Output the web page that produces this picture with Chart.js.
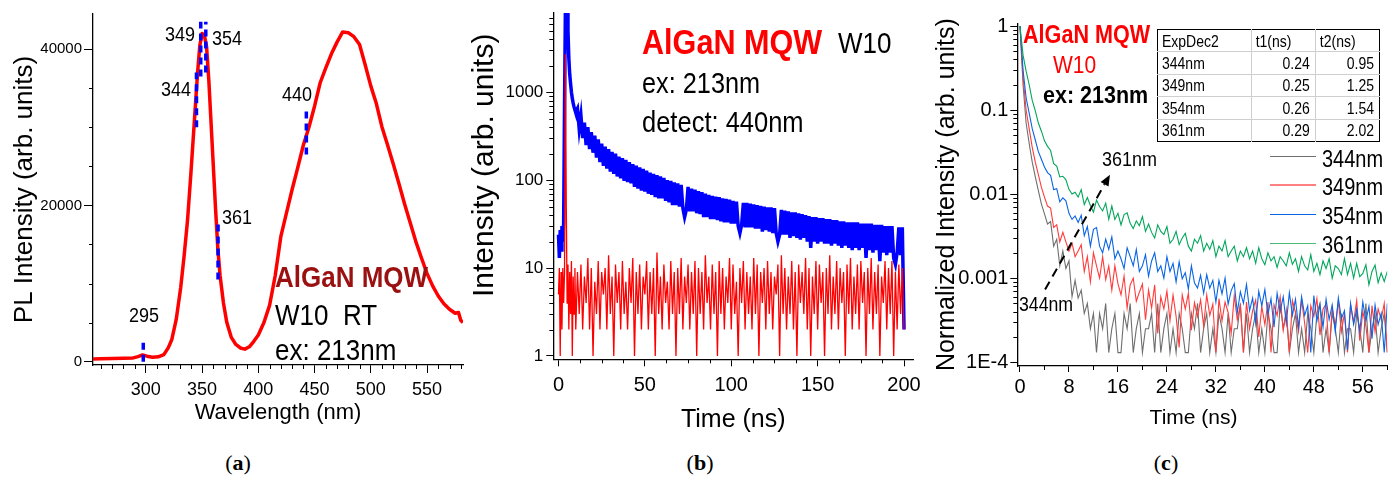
<!DOCTYPE html>
<html lang="en">
<head>
<meta charset="UTF-8">
<title>AlGaN MQW W10 - PL and time-resolved PL</title>
<script src="https://cdn.jsdelivr.net/npm/chart.js@4"></script>
<style>
  * { margin: 0; padding: 0; box-sizing: border-box; }
  body { width: 1397px; height: 477px; overflow: hidden; position: relative; background: #fff; font-family: 'Liberation Sans', Arial, sans-serif; color: #000; }
  .panel { position: absolute; top: 0; height: 440px; }
  .panel canvas { display: block; }
  .t { position: absolute; white-space: pre; line-height: 1; transform: scaleY(1.15); transform-origin: 0 0; }
  .b { font-weight: bold; }
  .cap { position: absolute; top: 452px; width: 60px; margin-left: -30px; text-align: center; font-family: 'Liberation Serif', 'DejaVu Serif', serif; font-size: 22px; line-height: 1; }
  .cap b { font-weight: bold; }
  .leg { position: absolute; left: 1270px; width: 46px; height: 1.6px; }
  #fitTable { position: absolute; left: 1157px; top: 29px; width: 223px; border-collapse: collapse; border: 1.5px solid #000; font-size: 14px; }
  #fitTable td { height: 22.4px; border: 1.5px solid #cfcfcf; padding: 0 5px 0 4px; text-align: right; vertical-align: middle; white-space: nowrap; }
  #fitTable td:first-child, #fitTable tr:first-child td { text-align: left; }
  #fitTable tr:first-child td { border-top: none; }
  #fitTable td:first-child { border-left: none; }
  #fitTable td:last-child { border-right: none; }
  #fitTable tr:last-child td { border-bottom: none; }
  #fitTable span { display: inline-block; transform: scaleY(1.15); }
</style>
</head>
<body>
<div class="panel" style="left:0;width:470px"><canvas id="chartA" width="470" height="440"></canvas></div>
<div class="panel" style="left:470px;width:460px"><canvas id="chartB" width="460" height="440"></canvas></div>
<div class="panel" style="left:930px;width:467px"><canvas id="chartC" width="467" height="440"></canvas></div>

<!-- (a) labels -->
<div class="t" style="left:165px;top:24px;font-size:18px">349</div>
<div class="t" style="left:212px;top:27.5px;font-size:18px">354</div>
<div class="t" style="left:161px;top:79px;font-size:18px">344</div>
<div class="t" style="left:282px;top:83.5px;font-size:18px">440</div>
<div class="t" style="left:222px;top:207px;font-size:18px">361</div>
<div class="t" style="left:129px;top:305px;font-size:18px">295</div>
<div class="t b" style="left:275px;top:261.7px;font-size:26px;color:#9b1111">AlGaN MQW</div>
<div class="t" style="left:275px;top:299.7px;font-size:26px">W10  RT</div>
<div class="t" style="left:275px;top:335.4px;font-size:26px">ex: 213nm</div>

<!-- (b) labels -->
<div class="t b" style="left:642px;top:23.5px;font-size:30.6px;color:#ff0000">AlGaN MQW</div>
<div class="t" style="left:838px;top:28px;font-size:26px">W10</div>
<div class="t" style="left:642px;top:68.7px;font-size:25.3px">ex: 213nm</div>
<div class="t" style="left:642px;top:107.7px;font-size:25.5px">detect: 440nm</div>

<!-- (c) labels -->
<div class="t b" style="left:1023px;top:21.7px;font-size:21.6px;color:#ff0000">AlGaN MQW</div>
<div class="t" style="left:1053px;top:52.3px;font-size:21px;color:#ff0000">W10</div>
<div class="t b" style="left:1043px;top:83px;font-size:21.5px">ex: 213nm</div>
<div class="t" style="left:1102px;top:148.5px;font-size:18px">361nm</div>
<div class="t" style="left:1019px;top:295.2px;font-size:17.7px">344nm</div>
<table id="fitTable"></table>
<div id="legendC"></div>

<div class="cap" style="left:238px">(<b>a</b>)</div>
<div class="cap" style="left:700px">(<b>b</b>)</div>
<div class="cap" style="left:1166px">(<b>c</b>)</div>

<script>
// ---------- (a) PL spectrum ----------
const aWavelength = [253,260,270,280,288,293,297,301,306,311,316,320,323,327,331,334,337,340,343,346,348,350,352,354,356,358,360,362,364,366,369,372,376,380,384,388,392,396,400,405,410,415,420,425,430,435,440,445,450,455,460,465,470,475,480,485,490,495,500,505,510,515,520,525,530,535,540,545,550,555,560,565,570,575,578,580,582]
const aIntensity = [350,380,400,420,450,650,850,700,560,620,900,1800,2800,5400,9500,13500,18000,24000,30500,37000,40500,42000,41800,40300,36000,30500,25000,19500,14500,11000,7500,5000,3100,2200,1750,1600,1900,2600,3400,5000,7200,11000,16000,19000,22000,24800,27700,30000,32700,35700,37600,39400,40900,42200,42100,41600,40600,38000,35300,33000,30000,27700,25300,22800,20200,17800,15400,13300,11300,9700,8400,7400,6700,6200,6300,5300,5000]
// detection wavelengths marked on the spectrum
const aMarkNm = [297.7, 345, 348.8, 353.3, 364.2, 442.7]
const aMarkLo = [0, 30000, 36500, 37000, 10500, 26500]
const aMarkHi = [3000, 37000, 43500, 43500, 18000, 32500]
const aXTicks = [300, 350, 400, 450, 500, 550]
const aYTicks = [0, 20000, 40000]
const aMinorX = [260,270,280,290,310,320,330,340,360,370,380,390,410,420,430,440,460,470,480,490,510,520,530,540,560,570,580]
const aMinorY = [5000,10000,15000,25000,30000,35000]

// ---------- (b) decay at 440nm ----------
const bTime = [0,0.5,1,1.5,2,2.5,3,3.5,4,4.5,5,5.5,6,6.5,7,7.5,8,8.5,9,9.5,10,
  11,12,13,14,15,16,17,18,19,20, 21,22,23,24,25,26,27,28,29,30,
  31,32,33,34,35,36,37,38,39,40, 41,42,43,44,45,46,47,48,49,50,
  51,52,53,54,55,56,57,58,59,60, 61,62,63,64,65,66,67,68,69,70,
  71,72,73,74,75,76,77,78,79,80, 81,82,83,84,85,86,87,88,89,90,
  91,92,93,94,95,96,97,98,99,100, 101,102,103,104,105,106,107,108,109,110,
  111,112,113,114,115,116,117,118,119,120, 121,122,123,124,125,126,127,128,129,130,
  131,132,133,134,135,136,137,138,139,140, 141,142,143,144,145,146,147,148,149,150,
  151,152,153,154,155,156,157,158,159,160, 161,162,163,164,165,166,167,168,169,170,
  171,172,173,174,175,176,177,178,179,180, 181,182,183,184,185,186,187,188,189,190,
  191,192,193,194,195,196,197,198,199,200]
const bSignal = [24,13,27,16,30,20,33,700,9000,9000,8000,5000,2400,1600,1250,1000,850,750,680,630,590,
  650,380,540,300,450,250,400,225,350,205, 320,180,290,160,260,145,240,135,225,125,
  210,118,200,110,185,105,178,98,170,95, 160,92,152,84,146,80,140,76,134,74,
  128,70,122,68,118,64,114,62,110,62, 106,58,100,56,98,52,94,52,92,50,
  88,48,38,46,84,44,80,44,78,42, 75,41,73,38,70,38,68,36,66,36,
  65,35,64,34,62,33,61,33,60,32, 58,32,57,30,25,31,55,29,55,29,
  54,29,53,28,52,28,51,26,50,27, 49,26,49,25,48,25,20,24,46,24,
  45,24,44,22,43,23,43,22,42,21, 41,22,40,20,39,17,38,20,38,19,
  37,20,37,19,36,19,36,18,35,19, 35,18,34,17,34,18,33,17,33,16,
  33,17,33,16,32,17,32,13,32,16, 32,15,31,16,31,12,31,15,30,14,
  30,15,30,13,11,15,29,14,29,2]
const bBackground = [5,10,1,9,2,10,4,9,2700,55,4,11,2,9,3,12,1,8,3,10,2,
  9,3,11,2,8,4,13,2,10,1, 7,3,12,2,9,5,10,2,14,3,
  8,1,11,4,9,2,12,3,7,2, 10,4,13,1,9,3,11,2,8,5,
  12,2,9,3,10,1,15,3,8,2, 11,4,7,2,12,3,9,1,10,3,
  13,2,8,4,11,2,9,3,12,1, 10,3,9,2,14,4,8,2,11,3,
  9,1,12,3,10,2,8,4,13,2, 11,3,7,1,10,4,12,2,9,3,
  8,2,13,3,11,1,9,4,10,2, 12,3,9,2,8,5,11,1,14,3,
  10,2,8,3,12,2,9,1,11,4, 9,3,13,2,10,1,8,3,12,2,
  11,4,9,1,10,3,14,2,8,3, 12,2,10,4,9,1,11,3,13,2,
  8,3,11,2,12,4,9,1,10,3, 13,2,9,3,11,1,8,4,12,2,
  10,3,12,1,9,2,11,3,10,2]
const bXTicks = [0, 50, 100, 150, 200]
const bYTicks = [1, 10, 100, 1000]
const bMinorX = [12.5,25,37.5,62.5,75,87.5,112.5,125,137.5,162.5,175,187.5]
const bMinorY = [2,3,4,5,6,7,8,9,20,30,40,50,60,70,80,90,200,300,400,500,600,700,800,900,2000,3000,4000,5000,6000,7000]

// ---------- (c) normalized decays ----------
const cTime = [0,0.5,1,1.5,2,2.5,3,3.5,4,4.5,
  5,5.5,6,6.5,7,7.5,8,8.5,9,9.5,
  10,10.5,11,11.5,12,12.5,13,13.5,14,14.5,
  15,15.5,16,16.5,17,17.5,18,18.5,19,19.5,
  20,20.5,21,21.5,22,22.5,23,23.5,24,24.5,
  25,25.5,26,26.5,27,27.5,28,28.5,29,29.5,
  30,30.5,31,31.5,32,32.5,33,33.5,34,34.5,
  35,35.5,36,36.5,37,37.5,38,38.5,39,39.5,
  40,40.5,41,41.5,42,42.5,43,43.5,44,44.5,
  45,45.5,46,46.5,47,47.5,48,48.5,49,49.5,
  50,50.5,51,51.5,52,52.5,53,53.5,54,54.5,
  55,55.5,56,56.5,57,57.5,58,58.5,59,59.5,60]
const c344 = [1,0.2,0.07,0.04,0.024,0.016,0.011,0.0076,0.0058,0.0044,
  0.0047,0.0024,0.0029,0.0014,0.0021,0.0013,0.0016,0.0006,0.00094,0.00058,
  0.00072,0.00038,0.0005,0.00025,0.00038,0.00013,0.00038,0.00025,0.0005,0.00013,
  0.00025,0.00038,0.00013,0.00013,0.00038,0.00025,0.0005,0.00013,0.00025,0.00038,
  0.00013,0.00025,0.00025,0.00038,0.00013,0.0005,0.00013,0.00025,0.00038,0.00013,
  0.00025,0.00013,0.00038,0.00025,0.00013,0.00013,0.00038,0.00025,0.0005,0.00013,
  0.00025,0.00038,0.00013,0.00025,0.00013,0.00038,0.00025,0.00013,0.00038,0.00013,
  0.00025,0.00025,0.0005,0.00013,0.00038,0.00013,0.00025,0.00038,0.00013,0.00025,
  0.00013,0.00038,0.00025,0.00013,0.00013,0.0005,0.00025,0.00038,0.00013,0.00025,
  0.00038,0.00013,0.00025,0.00013,0.00038,0.00025,0.00013,0.00038,0.0005,0.00013,
  0.00025,0.00013,0.00038,0.00025,0.00013,0.00038,0.00013,0.00025,0.00025,0.00013,
  0.00038,0.00025,0.00013,0.0005,0.00013,0.00025,0.00038,0.00013,0.00025,0.00038,0.00013]
const c349 = [1,0.25,0.1,0.06,0.036,0.024,0.017,0.012,0.0092,0.0072,
  0.0068,0.004,0.0043,0.0027,0.0035,0.0027,0.0021,0.0026,0.0018,0.0021,
  0.0025,0.0012,0.0018,0.0009,0.002,0.0014,0.001,0.0018,0.00096,0.0014,
  0.00072,0.0014,0.00086,0.00063,0.00106,0.00044,0.00083,0.001,0.00053,0.00068,
  0.00085,0.00032,0.00072,0.00044,0.00083,0.00022,0.0006,0.00043,0.0007,0.00031,
  0.00063,0.00035,0.00015,0.00063,0.00043,0.00066,0.00024,0.00051,0.00035,0.00055,
  0.00027,0.00063,0.00036,0.00049,0.00013,0.00057,0.00031,0.00052,0.00039,0.00022,
  0.00062,0.00032,0.00047,0.00013,0.00052,0.00025,0.00041,0.00055,0.0002,0.00046,
  0.00028,0.00052,0.00013,0.00048,0.00036,0.0006,0.00024,0.00042,0.00013,0.00054,
  0.00039,0.00023,0.00055,0.00029,0.00013,0.00047,0.00035,0.00057,0.00021,0.00043,
  0.00049,0.00013,0.00044,0.00027,0.00053,0.00023,0.00038,0.00013,0.00048,0.0003,
  0.00054,0.00018,0.0004,0.00027,0.00013,0.00047,0.00023,0.00043,0.00032,0.0005,0.00013]
const c354 = [1,0.3,0.14,0.092,0.06,0.044,0.032,0.026,0.021,0.018,
  0.0167,0.0113,0.0116,0.0081,0.009,0.0083,0.0059,0.005,0.0055,0.0046,
  0.0056,0.0032,0.0041,0.0024,0.0038,0.004,0.0024,0.002,0.0029,0.0022,
  0.0031,0.0017,0.0021,0.0017,0.0013,0.0023,0.0018,0.0014,0.0022,0.0012,
  0.0014,0.0019,0.00105,0.0016,0.002,0.0012,0.0014,0.001,0.0018,0.0012,
  0.0015,0.0009,0.00156,0.00098,0.00116,0.00074,0.0014,0.00088,0.00076,0.00108,
  0.00066,0.0011,0.00076,0.00094,0.00052,0.00094,0.00065,0.001,0.00049,0.00071,
  0.00086,0.00039,0.00069,0.0005,0.00084,0.00041,0.00058,0.00029,0.0007,0.00047,
  0.00073,0.00037,0.00057,0.00026,0.00066,0.0004,0.0006,0.00029,0.00067,0.00036,
  0.00056,0.00026,0.0006,0.00036,0.00047,0.00013,0.00062,0.00031,0.00048,0.00026,
  0.00056,0.00032,0.00048,0.00023,0.00058,0.00033,0.00041,0.00014,0.0005,0.00028,
  0.00043,0.00023,0.00052,0.00031,0.00046,0.00019,0.00048,0.00028,0.00038,0.00013,0.0005]
const c361 = [1,0.45,0.29,0.2,0.13,0.098,0.07,0.056,0.043,0.037,
  0.033,0.023,0.0215,0.016,0.0163,0.0148,0.0114,0.01,0.0105,0.0092,
  0.0113,0.0075,0.0091,0.0073,0.0061,0.0085,0.0071,0.0063,0.0078,0.005,
  0.0072,0.005,0.0059,0.0043,0.0057,0.006,0.0045,0.0039,0.0048,0.0042,
  0.0054,0.0036,0.0044,0.0035,0.003,0.0043,0.0036,0.0033,0.0041,0.0026,
  0.0029,0.0036,0.0025,0.003,0.0034,0.0024,0.0021,0.0029,0.0026,0.0032,
  0.0021,0.0026,0.0022,0.0028,0.0018,0.0024,0.0021,0.0028,0.0018,0.0021,
  0.0024,0.0016,0.0021,0.0018,0.0023,0.0017,0.0021,0.0015,0.0023,0.0017,
  0.00144,0.002,0.0016,0.0018,0.00134,0.0018,0.0016,0.0014,0.002,0.00146,
  0.0017,0.0012,0.0018,0.0014,0.00125,0.0019,0.0012,0.0015,0.0011,0.0016,
  0.0013,0.0017,0.001,0.0014,0.0013,0.0011,0.0017,0.0011,0.0015,0.001,
  0.0015,0.00104,0.00114,0.00144,0.00083,0.0012,0.00143,0.00088,0.00115,0.00091,0.0012]
const cLabels = ['344nm', '349nm', '354nm', '361nm']
const cColors = ['#6e6e6e', '#ff3b3b', '#0a64e6', '#00a65a']
const cLegendColors = ['#6e6e6e', '#ff8080', '#0a64e6', '#4cb87a']
const cXTicks = [0, 8, 16, 24, 32, 40, 48, 56]
const cYTicks = [0.0001, 0.001, 0.01, 0.1, 1]
const cYLabels = ['1E-4', '0.001', '0.01', '0.1', '1']
const cMinorX = [4, 12, 20, 28, 36, 44, 52, 60]
const cMinorY = [0.0002,0.0003,0.0004,0.0005,0.0006,0.0007,0.0008,0.0009,0.002,0.003,0.004,0.005,0.006,0.007,0.008,0.009,0.02,0.03,0.04,0.05,0.06,0.07,0.08,0.09,0.2,0.3,0.4,0.5,0.6,0.7,0.8,0.9]
const cArrowT = [4.1, 14.7]
const cArrowI = [0.00073, 0.017]

// ExpDec2 fit table
const fitRows = ['344nm', '349nm', '354nm', '361nm']
const fitT1 = [0.24, 0.25, 0.26, 0.29]
const fitT2 = [0.95, 1.25, 1.54, 2.02]

Chart.defaults.font.family = "'Liberation Sans', Arial, sans-serif"
Chart.defaults.color = '#000'
Chart.defaults.animation = false

const pts = (xs, ys) => ys.map((v, i) => ({ x: xs[i], y: v }))

const minorTicks = {
  id: 'minorTicks',
  afterDraw(chart, args, opts) {
    const { ctx, chartArea: a, scales } = chart
    ctx.save()
    ctx.strokeStyle = '#000'
    ctx.lineWidth = 1
    ctx.beginPath()
    for (const v of opts.x || []) {
      const p = Math.round(scales.x.getPixelForValue(v)) + 0.5
      ctx.moveTo(p, a.bottom)
      ctx.lineTo(p, a.bottom + opts.len)
    }
    for (const v of opts.y || []) {
      const p = Math.round(scales.y.getPixelForValue(v)) + 0.5
      ctx.moveTo(a.left, p)
      ctx.lineTo(a.left - opts.len, p)
    }
    ctx.stroke()
    ctx.restore()
  }
}

const arrow = {
  id: 'arrow',
  afterDatasetsDraw(chart, args, opts) {
    if (!opts.t) return
    const { ctx, scales: { x, y } } = chart
    const x0 = x.getPixelForValue(opts.t[0]), y0 = y.getPixelForValue(opts.v[0])
    const x1 = x.getPixelForValue(opts.t[1]), y1 = y.getPixelForValue(opts.v[1])
    const ang = Math.atan2(y1 - y0, x1 - x0)
    const head = 11, half = 4.5
    const bx = x1 - head * Math.cos(ang), by = y1 - head * Math.sin(ang)
    ctx.save()
    ctx.strokeStyle = '#000'
    ctx.lineWidth = 2
    ctx.setLineDash([9, 6])
    ctx.beginPath()
    ctx.moveTo(x0, y0)
    ctx.lineTo(bx, by)
    ctx.stroke()
    ctx.setLineDash([])
    ctx.fillStyle = '#000'
    ctx.beginPath()
    ctx.moveTo(x1, y1)
    ctx.lineTo(bx + half * Math.sin(ang), by - half * Math.cos(ang))
    ctx.lineTo(bx - half * Math.sin(ang), by + half * Math.cos(ang))
    ctx.closePath()
    ctx.fill()
    ctx.restore()
  }
}

// one axis, sized by hand so the plot area lands where the figure has it
const axis = o => ({
  type: o.type || 'linear',
  position: o.pos,
  min: o.min,
  max: o.max,
  afterFit: s => { if (o.pos === 'left') s.width = o.size; else s.height = o.size },
  afterBuildTicks: s => { s.ticks = o.ticks.map(v => ({ value: v })) },
  grid: { drawOnChartArea: false, drawTicks: true, tickLength: o.tickLen, color: '#000', lineWidth: 1 },
  border: { display: true, color: '#000', width: 1.3 },
  ticks: {
    font: { size: o.tickSize, lineHeight: 1 },
    padding: o.tickPad,
    color: '#000',
    maxRotation: 0,
    autoSkip: false,
    callback: (v, i) => (o.labels ? o.labels[i] : String(o.ticks[i]))
  },
  title: { display: true, text: o.title, color: '#000', font: { size: o.titleSize, lineHeight: 1 }, padding: { top: o.titlePad, bottom: o.titlePad } }
})

const line = (data, color, width, order, extra) => Object.assign({
  data, borderColor: color, backgroundColor: color, borderWidth: width,
  pointRadius: 0, tension: 0, borderJoinStyle: 'round', order
}, extra || {})

// (a)
new Chart(document.getElementById('chartA'), {
  type: 'line',
  data: {
    datasets: [
      line(pts(aWavelength, aIntensity), '#ff0000', 3.5, 1),
      ...aMarkNm.map((nm, i) => line([{ x: nm, y: aMarkLo[i] }, { x: nm, y: aMarkHi[i] }], '#0000ff', 3.5, 0, { borderDash: [7, 5], borderCapStyle: 'butt' }))
    ]
  },
  options: {
    responsive: false,
    events: [],
    layout: { padding: { left: 0, top: 14, right: 7, bottom: 0 } },
    plugins: { legend: { display: false }, tooltip: { enabled: false }, minorTicks: { x: aMinorX, y: aMinorY, len: 4 } },
    scales: {
      x: axis({ pos: 'bottom', min: 253, max: 582, size: 75, ticks: aXTicks, tickLen: 8, tickSize: 18, tickPad: 8, title: 'Wavelength (nm)', titleSize: 22, titlePad: 16 }),
      y: axis({ pos: 'left', min: -430, max: 44500, size: 93, ticks: aYTicks, tickLen: 9, tickSize: 15, tickPad: 2, title: 'PL Intensity (arb. units)', titleSize: 26, titlePad: 12 })
    }
  },
  plugins: [minorTicks]
})

// (b)
new Chart(document.getElementById('chartB'), {
  type: 'line',
  data: {
    datasets: [
      line(pts(bTime, bSignal), '#0000ff', 3.5, 1, { borderJoinStyle: 'miter' }),
      line(pts(bTime, bBackground), '#ff0000', 1.3, 0, { borderJoinStyle: 'miter' })
    ]
  },
  options: {
    responsive: false,
    events: [],
    layout: { padding: { left: 0, top: 13, right: 10.7, bottom: 0 } },
    plugins: { legend: { display: false }, tooltip: { enabled: false }, minorTicks: { x: bMinorX, y: bMinorY, len: 4 } },
    scales: {
      x: axis({ pos: 'bottom', min: -3, max: 205.3, size: 80.7, ticks: bXTicks, tickLen: 7, tickSize: 20, tickPad: 9, title: 'Time (ns)', titleSize: 25, titlePad: 7.5 }),
      y: axis({ type: 'logarithmic', pos: 'left', min: 0.917, max: 7950, size: 83.3, ticks: bYTicks, tickLen: 7, tickSize: 17, tickPad: 3, title: '     Intensity (arb. units)', titleSize: 30, titlePad: 0 })
    }
  },
  plugins: [minorTicks]
})

// (c)
const cSeries = [c344, c349, c354, c361]
new Chart(document.getElementById('chartC'), {
  type: 'line',
  data: {
    datasets: cSeries.map((s, i) => line(pts(cTime, s), cColors[i], 1.1, 3 - i, { label: cLabels[i], borderJoinStyle: 'miter' }))
  },
  options: {
    responsive: false,
    events: [],
    layout: { padding: { left: 0, top: 23.3, right: 9.7, bottom: 0 } },
    plugins: {
      legend: { display: false },
      tooltip: { enabled: false },
      minorTicks: { x: cMinorX, y: cMinorY, len: 4 },
      arrow: { t: cArrowT, v: cArrowI }
    },
    scales: {
      x: axis({ pos: 'bottom', min: -0.44, max: 60, size: 74, ticks: cXTicks, tickLen: 6, tickSize: 20, tickPad: 5, title: 'Time (ns)   ', titleSize: 21, titlePad: 11.5 }),
      y: axis({ type: 'logarithmic', pos: 'left', min: 0.00009, max: 1.077, size: 87.3, ticks: cYTicks, labels: cYLabels, tickLen: 7, tickSize: 20, tickPad: 2, title: 'Normalized Intensity (arb. units)', titleSize: 25, titlePad: 4.5 })
    }
  },
  plugins: [minorTicks, arrow]
})

// fit table
const table = document.getElementById('fitTable')
const headRow = ['ExpDec2', 't1(ns)', 't2(ns)']
table.innerHTML = '<tr>' + headRow.map(h => `<td><span>${h}</span></td>`).join('') + '</tr>' +
  fitRows.map((r, i) => `<tr><td><span>${r}</span></td><td><span>${fitT1[i].toFixed(2)}</span></td><td><span>${fitT2[i].toFixed(2)}</span></td></tr>`).join('')

// legend for (c)
const legendRowY = [156.7, 185, 214.3, 243.3]
document.getElementById('legendC').innerHTML = cLabels.map((lab, i) =>
  `<div class="leg" style="top:${legendRowY[i] - 0.8}px;background:${cLegendColors[i]}"></div>` +
  `<div class="t" style="left:1322px;top:${legendRowY[i] - 10.2}px;font-size:20px">${lab}</div>`
).join('')
</script>
</body>
</html>
